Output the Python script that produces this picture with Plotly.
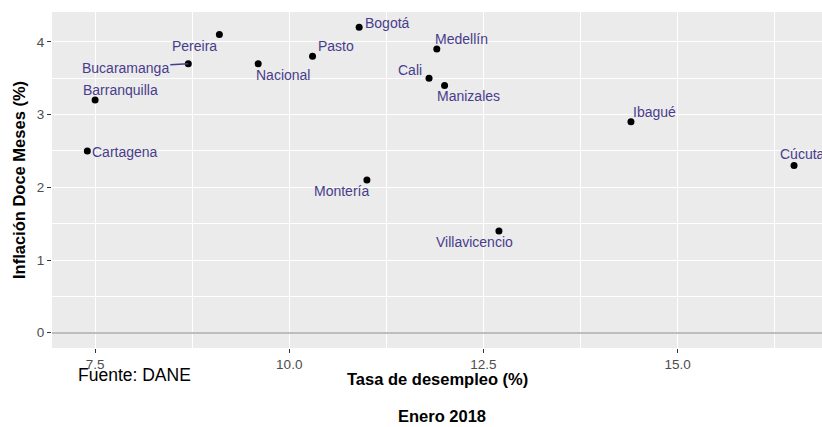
import plotly.graph_objects as go

# ---- data ----
ciudades = ["Bogotá", "Pereira", "Medellín", "Pasto", "Bucaramanga", "Nacional",
            "Cali", "Manizales", "Barranquilla", "Ibagué", "Cartagena", "Cúcuta",
            "Montería", "Villavicencio"]
desempleo = [10.9, 9.1, 11.9, 10.3, 8.7, 9.6, 11.8, 12.0, 7.5, 14.4, 7.4, 16.5, 11.0, 12.7]
inflacion = [4.2, 4.1, 3.9, 3.8, 3.7, 3.7, 3.5, 3.4, 3.2, 2.9, 2.5, 2.3, 2.1, 1.4]

# label offsets in screen pixels (dx right, dy down) – style only
label_dx = [28, -25, 25, 23, -63, 25, -19, 24, 25, 24, 38, 8, -25, -24]
label_dy = [-4, 11, -10, -10, 4, 11, -8, 11, -10, -10, 1, -11, 11, 11]

FONT = "Liberation Sans, Arial, Helvetica, sans-serif"
LABEL_COLOR = "#483D8B"

fig = go.Figure()
fig.add_trace(go.Scatter(
    x=desempleo, y=inflacion, mode="markers",
    marker=dict(color="black", size=7),
    hoverinfo="skip", showlegend=False,
))

annotations = []
for name, xv, yv, dx, dy in zip(ciudades, desempleo, inflacion, label_dx, label_dy):
    if name == "Bucaramanga":
        annotations.append(dict(
            x=xv, y=yv, xref="x", yref="y", text=name,
            showarrow=True, ax=dx, ay=dy, arrowhead=0, arrowwidth=1.5,
            arrowcolor=LABEL_COLOR, standoff=0, startstandoff=0,
            font=dict(family=FONT, size=14, color=LABEL_COLOR),
        ))
    else:
        annotations.append(dict(
            x=xv, y=yv, xref="x", yref="y", text=name, showarrow=False,
            xshift=dx, yshift=-dy, xanchor="center", yanchor="middle",
            font=dict(family=FONT, size=14, color=LABEL_COLOR),
        ))

# axis titles / captions
annotations += [
    dict(text="<b>Tasa de desempleo (%)</b>", xref="paper", yref="paper", x=0.5, y=0,
         xanchor="center", yanchor="middle", yshift=-31, showarrow=False,
         font=dict(family=FONT, size=16.5, color="black")),
    dict(text="<b>Enero 2018</b>", xref="paper", yref="paper", x=0.5, y=0,
         xanchor="center", yanchor="middle", xshift=5, yshift=-68, showarrow=False,
         font=dict(family=FONT, size=16.5, color="black")),
    dict(text="Fuente: DANE", xref="paper", yref="paper", x=0, y=0,
         xanchor="center", yanchor="middle", xshift=134.5 - 52, yshift=-27, showarrow=False,
         font=dict(family=FONT, size=17.5, color="black")),
    dict(text="<b>Inflación Doce Meses (%)</b>", xref="paper", yref="paper", x=0, y=0.5,
         xanchor="center", yanchor="middle", xshift=19 - 52, textangle=-90, showarrow=False,
         font=dict(family=FONT, size=16.5, color="black")),
]

fig.update_layout(
    width=822, height=427,
    margin=dict(l=52, r=0, t=12, b=79, autoexpand=False),
    paper_bgcolor="white", plot_bgcolor="#EBEBEB",
    font=dict(family=FONT),
    annotations=annotations,
    showlegend=False,
)
fig.update_xaxes(
    range=[6.945, 16.86], tick0=7.5, dtick=2.5, tickformat=".1f",
    showgrid=True, gridcolor="white", gridwidth=1.4,
    minor=dict(dtick=1.25, tick0=7.5, showgrid=True, gridcolor="white", gridwidth=0.7),
    zeroline=False, showline=False,
    ticks="outside", ticklen=4, tickwidth=1.1, tickcolor="#333333",
    tickfont=dict(family=FONT, size=13.5, color="#4D4D4D"),
)
fig.update_yaxes(
    range=[-0.21, 4.41], tick0=0, dtick=1,
    showgrid=True, gridcolor="white", gridwidth=1.4,
    minor=dict(dtick=0.5, tick0=0, showgrid=True, gridcolor="white", gridwidth=0.7),
    zeroline=True, zerolinecolor="#BEBEBE", zerolinewidth=2,
    showline=False,
    ticks="outside", ticklen=4, tickwidth=1.1, tickcolor="#333333",
    tickfont=dict(family=FONT, size=13.5, color="#4D4D4D"),
)

fig.write_html(
    "out.html",
    config={"displayModeBar": False},
    post_script="document.body.style.margin='0';document.body.style.overflow='hidden';",
)
